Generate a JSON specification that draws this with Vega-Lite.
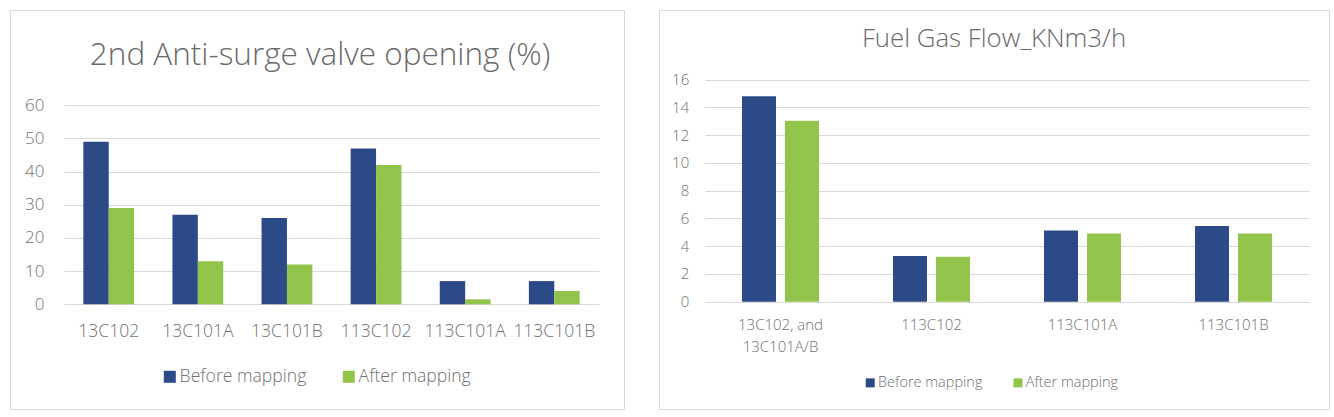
{
  "$schema": "https://vega.github.io/schema/vega-lite/v6.json",
  "background": "white",
  "padding": {"left": 9, "top": 9, "right": 0, "bottom": 0},
  "spacing": 35,
  "bounds": "flush",
  "config": {
    "font": "Open Sans",
    "view": {"stroke": "#D9D9D9", "strokeWidth": 1},
    "axis": {"labelFont": "Open Sans", "labelColor": "#707070", "labelFontWeight": 300, "ticks": false, "tickSize": 0, "domain": false, "title": null, "gridColor": "#D9D9D9", "gridWidth": 1},
    "legend": {"labelFont": "Open Sans", "labelColor": "#707070", "labelFontWeight": 300, "orient": "none", "direction": "horizontal", "symbolType": "square", "symbolStrokeWidth": 0, "padding": 0, "title": null},
    "title": {"font": "Open Sans", "fontWeight": 300, "color": "#6a6a6a", "anchor": "middle", "frame": "group", "baseline": "alphabetic"}
  },
  "resolve": {"scale": {"color": "independent", "x": "independent", "y": "independent", "xOffset": "independent"}, "legend": {"color": "independent"}},
  "hconcat": [
    {
      "width": 614,
      "height": 399,
      "title": {"text": "2nd Anti-surge valve opening (%)", "fontSize": 31.5, "offset": -61.5, "dx": 3},
      "data": {"values": [
        {"unit": "13C102", "series": "Before mapping", "value": 49},
        {"unit": "13C102", "series": "After mapping", "value": 29},
        {"unit": "13C101A", "series": "Before mapping", "value": 27},
        {"unit": "13C101A", "series": "After mapping", "value": 13},
        {"unit": "13C101B", "series": "Before mapping", "value": 26},
        {"unit": "13C101B", "series": "After mapping", "value": 12},
        {"unit": "113C102", "series": "Before mapping", "value": 47},
        {"unit": "113C102", "series": "After mapping", "value": 42},
        {"unit": "113C101A", "series": "Before mapping", "value": 7},
        {"unit": "113C101A", "series": "After mapping", "value": 1.5},
        {"unit": "113C101B", "series": "Before mapping", "value": 7},
        {"unit": "113C101B", "series": "After mapping", "value": 4}
      ]},
      "mark": {"type": "bar"},
      "encoding": {
        "x": {"field": "unit", "type": "nominal", "sort": null,
              "scale": {"range": [54, 589], "paddingInner": 0.43, "paddingOuter": 0.217},
              "axis": {"labelAngle": 0, "labelFontSize": 17.5, "offset": -104.7, "labelPadding": 18, "grid": false, "labelOverlap": false, "labelLimit": 0}},
        "xOffset": {"field": "series", "type": "nominal", "sort": ["Before mapping", "After mapping"], "scale": {"paddingInner": 0, "paddingOuter": 0}},
        "y": {"field": "value", "type": "quantitative",
              "scale": {"domain": [0, 60], "range": [294.3, 95.3], "nice": false},
              "axis": {"values": [0, 10, 20, 30, 40, 50, 60], "grid": true, "labelFontSize": 17, "offset": -54, "labelPadding": 20}},
        "color": {"field": "series", "type": "nominal",
                  "scale": {"domain": ["Before mapping", "After mapping"], "range": ["#2C4A87", "#92C34B"]},
                  "legend": {"legendX": 151, "legendY": 357.7, "symbolSize": 144, "labelFontSize": 17.6, "labelOffset": 1, "columnPadding": 33}}
      }
    },
    {
      "width": 670,
      "height": 399,
      "title": {"text": "Fuel Gas Flow_KNm3/h", "fontSize": 25.8, "offset": -42.5},
      "data": {"values": [
        {"unit": "13C102, and 13C101A/B", "series": "Before mapping", "value": 14.8},
        {"unit": "13C102, and 13C101A/B", "series": "After mapping", "value": 13.05},
        {"unit": "113C102", "series": "Before mapping", "value": 3.29},
        {"unit": "113C102", "series": "After mapping", "value": 3.24},
        {"unit": "113C101A", "series": "Before mapping", "value": 5.14},
        {"unit": "113C101A", "series": "After mapping", "value": 4.92},
        {"unit": "113C101B", "series": "Before mapping", "value": 5.45},
        {"unit": "113C101B", "series": "After mapping", "value": 4.92}
      ]},
      "mark": {"type": "bar"},
      "encoding": {
        "x": {"field": "unit", "type": "nominal", "sort": null,
              "scale": {"range": [46, 650], "paddingInner": 0.49, "paddingOuter": 0.245},
              "axis": {"labelAngle": 0, "labelFontSize": 15, "offset": -107.3, "labelPadding": 16, "grid": false, "labelOverlap": false, "labelLimit": 0, "labelLineHeight": 21.6,
                       "labelExpr": "datum.label == '13C102, and 13C101A/B' ? ['13C102, and', '13C101A/B'] : datum.label"}},
        "xOffset": {"field": "series", "type": "nominal", "sort": ["Before mapping", "After mapping"], "scale": {"paddingInner": 0.21, "paddingOuter": 0}},
        "y": {"field": "value", "type": "quantitative",
              "scale": {"domain": [0, 16], "range": [291.7, 69.7], "nice": false},
              "axis": {"values": [0, 2, 4, 6, 8, 10, 12, 14, 16], "grid": true, "labelFontSize": 15, "offset": -46, "labelPadding": 16.3}},
        "color": {"field": "series", "type": "nominal",
                  "scale": {"domain": ["Before mapping", "After mapping"], "range": ["#2C4A87", "#92C34B"]},
                  "legend": {"legendX": 204, "legendY": 365.5, "symbolSize": 81, "labelFontSize": 14.5, "labelOffset": 0.5, "columnPadding": 27.7}}
      }
    }
  ]
}
